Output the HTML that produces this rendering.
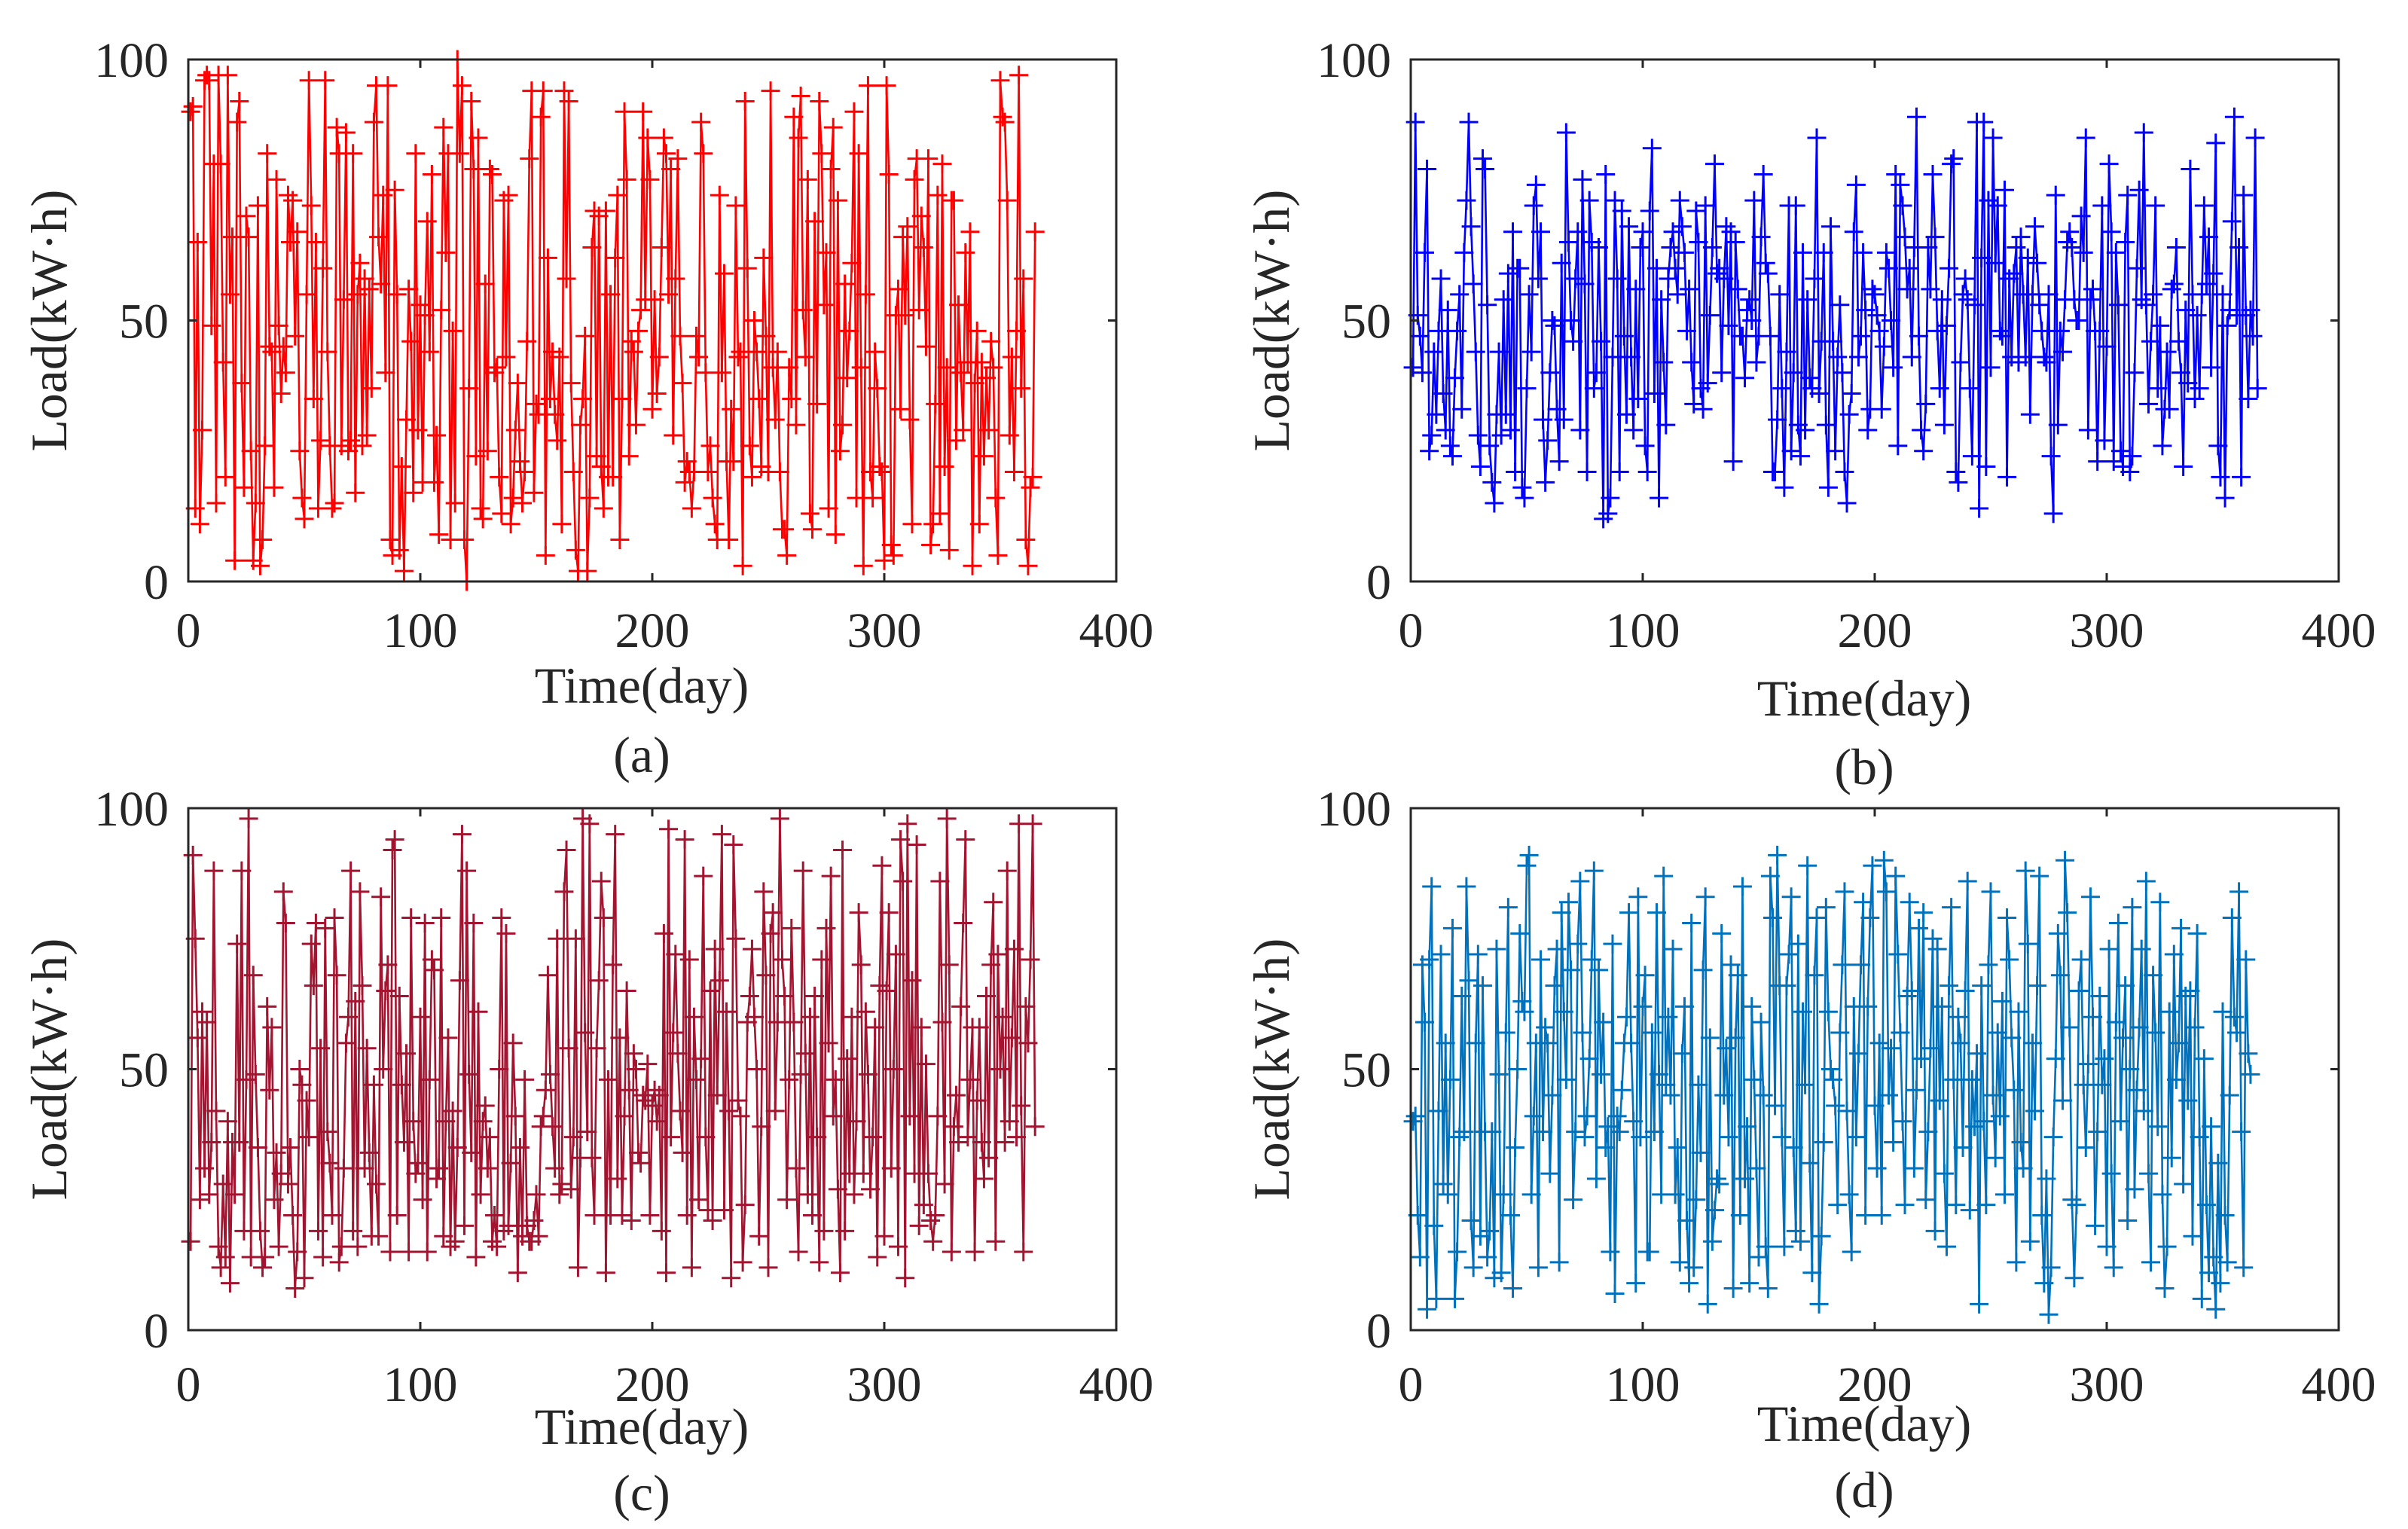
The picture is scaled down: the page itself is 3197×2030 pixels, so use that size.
<!DOCTYPE html>
<html><head><meta charset="utf-8"><style>
html,body{margin:0;padding:0;background:#fff;}
svg{display:block;}
text{font-family:"Liberation Serif",serif;fill:#262626;}
</style></head><body>
<svg id="fig" width="3197" height="2030" viewBox="0 0 3197 2030" xmlns="http://www.w3.org/2000/svg"></svg>
<script>
const xTicks=[0,100,200,300,400];
const yTicks=[0,50,100];
const xTickLabels=["0","100","200","300","400"];
const yTickLabels=["0","50","100"];
const captions=["(a)","(b)","(c)","(d)"];
const seriesA=[90,91,14,65,11,29,96,97,96,49,80,15,97,80,42,20,97,55,66,4,88,92,38,18,70,66,25,4,15,72,3,8,26,82,45,44,18,77,49,36,45,40,74,65,73,47,67,25,16,12,55,96,72,35,65,14,27,60,96,44,26,14,15,87,82,26,54,86,25,27,82,17,55,61,26,58,28,56,37,88,95,66,57,74,40,95,8,5,75,55,6,22,2,31,56,46,17,82,29,53,19,51,69,44,78,19,28,9,52,87,63,82,8,48,15,100,82,95,8,0,37,92,79,24,85,14,12,57,25,79,78,40,41,20,13,73,43,74,11,16,29,38,23,15,21,46,81,94,17,34,32,89,94,5,62,35,44,32,27,43,11,94,58,92,38,21,6,2,30,35,47,2,16,64,71,24,70,22,14,71,20,55,20,62,74,8,35,90,77,24,46,44,30,48,52,90,54,85,77,33,54,36,43,64,85,82,55,79,28,58,81,47,38,19,23,21,14,21,47,43,88,82,40,21,26,16,11,8,74,40,59,23,8,33,23,72,43,44,3,92,60,26,20,50,44,35,22,62,47,21,94,41,31,44,21,10,10,5,41,35,89,30,85,93,52,43,77,13,10,69,34,92,82,53,63,14,79,87,9,73,25,30,57,39,48,61,90,16,82,41,3,55,95,21,16,44,37,22,21,4,95,78,7,5,51,56,33,66,51,68,31,11,77,81,52,70,64,45,81,7,11,34,74,13,80,22,41,6,73,73,27,53,40,29,63,42,67,3,38,48,11,42,24,39,29,46,41,16,5,96,89,88,73,28,43,21,48,97,37,58,8,3,18,20,67,42,10,38,96,87,62,18,26,88,19,15,4,56,100,67,12,19];
const seriesB=[41,88,51,47,40,63,79,25,28,44,32,48,58,36,29,52,26,24,39,48,55,33,63,73,88,68,57,44,28,22,81,79,53,26,19,15,32,44,28,54,32,59,29,67,21,60,60,18,16,37,55,44,72,76,58,67,31,19,27,40,50,49,33,23,61,31,86,65,50,46,58,67,29,77,57,21,73,65,37,40,64,46,12,78,13,16,43,73,58,21,71,47,32,68,43,29,56,35,64,67,26,21,71,83,36,60,16,54,42,30,58,64,67,60,55,73,68,63,48,56,42,34,71,65,37,33,72,38,51,64,80,59,60,40,58,68,49,67,23,65,56,47,47,39,52,54,50,73,42,47,66,78,61,59,47,21,21,31,55,37,18,44,72,25,40,72,30,24,63,29,54,39,37,58,85,36,46,63,30,18,68,46,25,43,53,40,21,15,32,36,67,76,43,47,63,52,29,33,56,55,51,48,33,45,63,60,50,41,78,26,76,72,66,56,60,43,64,89,47,29,25,34,64,56,78,66,48,37,54,30,49,60,80,81,21,19,42,55,58,54,37,24,53,88,14,62,88,22,73,41,85,61,72,48,47,75,20,58,43,59,64,42,66,55,43,62,32,55,68,61,53,48,43,42,55,24,13,74,30,48,44,54,65,67,64,54,50,50,70,63,85,29,54,56,48,23,48,72,27,45,80,67,23,63,53,25,22,65,74,21,24,40,60,75,54,86,53,34,46,55,72,37,49,26,33,44,33,56,57,64,46,40,22,52,38,79,55,35,51,37,55,72,57,66,41,59,84,26,20,55,16,49,52,69,89,51,64,20,74,51,35,52,47,85,37,27,48,19,42,36,58,26,24,67,66,82,49];
const seriesC=[17,91,75,56,25,61,31,59,26,36,88,42,16,12,28,14,40,9,36,26,74,36,88,19,48,98,14,68,49,35,19,12,14,62,46,58,25,34,16,30,84,78,28,35,22,8,15,50,47,10,44,37,74,66,78,19,54,14,77,38,32,22,79,68,13,16,31,55,60,88,19,63,16,84,66,31,54,34,18,47,28,18,83,50,65,70,15,92,94,22,64,47,36,53,15,79,40,30,32,60,25,78,15,48,71,69,29,31,79,18,40,56,16,42,17,35,67,95,20,88,49,34,78,14,61,26,40,43,31,37,17,22,16,50,79,19,76,20,32,55,41,11,35,18,48,20,17,17,21,26,18,39,41,46,68,49,39,31,75,26,28,84,92,54,27,37,75,12,33,98,57,38,97,33,22,54,67,86,79,11,48,22,70,95,29,56,22,41,65,46,21,53,50,34,32,45,44,51,22,43,46,40,45,19,76,11,96,37,57,72,53,42,34,94,22,71,12,60,48,25,52,87,37,23,65,21,73,45,67,95,23,61,42,10,93,75,44,41,13,24,59,64,73,60,50,18,39,84,68,12,76,80,42,59,98,71,64,25,48,77,59,31,15,49,88,53,26,60,22,64,37,13,71,19,77,55,87,41,48,27,11,92,19,52,30,60,26,40,80,70,30,61,49,27,37,58,14,66,89,18,65,80,31,50,72,16,94,86,10,97,41,67,30,93,20,58,24,51,30,21,17,22,41,86,59,28,98,70,15,39,45,36,62,78,94,37,48,58,15,44,58,36,29,64,33,70,82,17,72,50,60,36,88,40,56,73,37,97,43,15,62,55,71,97,39,74,88,49];
const seriesD=[40,41,22,14,70,59,4,71,85,20,6,42,72,28,55,26,48,77,6,15,37,64,38,85,67,21,12,55,72,18,66,38,14,19,38,10,73,49,11,26,57,81,22,8,35,50,76,63,61,89,91,26,41,55,12,71,38,58,55,30,45,66,73,13,80,61,48,82,69,25,38,74,86,57,37,41,52,71,88,29,69,49,59,35,39,15,74,7,41,38,46,55,60,80,55,40,9,83,37,62,68,15,15,57,38,80,49,26,87,47,60,45,73,26,35,13,53,62,21,9,78,12,25,47,34,69,83,5,56,17,23,29,28,76,45,54,37,70,8,56,68,22,85,29,39,9,62,48,31,14,59,45,16,8,87,79,43,91,66,37,16,66,72,83,35,19,74,17,61,47,89,32,11,68,79,5,18,36,81,61,50,48,43,24,57,70,84,42,26,15,62,37,53,70,82,22,62,79,89,43,31,55,22,90,84,45,54,36,87,72,57,40,24,64,82,65,31,46,77,52,80,25,38,54,75,19,73,44,62,30,16,66,81,48,24,60,55,35,65,86,23,48,39,53,5,66,40,24,70,84,45,33,57,41,63,26,79,71,56,46,13,61,36,31,88,74,17,55,42,66,87,22,9,29,3,12,37,52,76,68,44,90,80,58,25,10,24,65,71,47,35,51,83,60,20,38,64,47,52,16,73,30,12,59,78,40,56,66,21,50,81,27,46,58,73,42,86,30,13,68,57,39,82,26,8,16,61,33,72,48,55,77,28,64,44,65,18,58,76,37,6,52,24,11,39,14,4,32,9,61,22,13,45,79,60,57,84,38,12,71,53,49];
const maxDays=365;

const NS="http://www.w3.org/2000/svg";
const svg=document.getElementById('fig');
function mk(tag,attrs,parent){const e=document.createElementNS(NS,tag);for(const k in attrs)e.setAttribute(k,attrs[k]);(parent||svg).appendChild(e);return e;}

const panels=[
 {id:'a',data:seriesA,color:'#ff0000',L:250,R:1482,T:79,B:772,tickY:859,titleY:933,capY:1025,yt:65},
 {id:'b',data:seriesB,color:'#0000ff',L:1873,R:3105,T:79,B:772,tickY:859,titleY:950,capY:1041,yt:1688},
 {id:'c',data:seriesC,color:'#a2142f',L:250,R:1482,T:1073,B:1766,tickY:1860,titleY:1917,capY:2005,yt:65},
 {id:'d',data:seriesD,color:'#0072bd',L:1873,R:3105,T:1073,B:1766,tickY:1860,titleY:1913,capY:2001,yt:1688}
];

panels.forEach((p,pi)=>{
  const g=mk('g',{});
  
  
  const sx=v=>p.L+(v-0)/(400-0)*(p.R-p.L);
  const sy=v=>p.B-(v-0)/(100-0)*(p.B-p.T);
  const vals=p.data.slice(0,maxDays);
  let d='';
  vals.forEach((v,i)=>{d+=(i?'L':'M')+sx(i+1).toFixed(2)+' '+sy(v).toFixed(2);});
  const line=mk('path',{d:d,fill:'none',stroke:p.color,'stroke-width':2.6,'stroke-linejoin':'round'},g);
  
  
  let md='';const m=12.5;
  vals.forEach((v,i)=>{const x=sx(i+1),y=sy(v);md+='M'+(x-m).toFixed(2)+' '+y.toFixed(2)+'h'+(2*m)+'M'+x.toFixed(2)+' '+(y-m).toFixed(2)+'v'+(2*m);});
  const mrk=mk('path',{d:md,fill:'none',stroke:p.color,'stroke-width':3},g);
  
  
  const box=mk('rect',{x:p.L,y:p.T,width:p.R-p.L,height:p.B-p.T,fill:'none',stroke:'#262626','stroke-width':3},g);
  
  
  xTicks.forEach((t,i)=>{
    const x=sx(t);
    mk('path',{d:'M'+x+' '+p.B+'v-11M'+x+' '+p.T+'v11',stroke:'#262626','stroke-width':3},g);
    const tx=mk('text',{x:x,y:p.tickY,'font-size':66,'text-anchor':'middle'},g);
    
    
    tx.textContent=xTickLabels[i];
  });
  yTicks.forEach((t,i)=>{
    const y=sy(t);
    mk('path',{d:'M'+p.L+' '+y+'h11M'+p.R+' '+y+'h-11',stroke:'#262626','stroke-width':3},g);
    const ty=mk('text',{x:p.L-26,y:y+23,'font-size':66,'text-anchor':'end'},g);
    
    
    ty.textContent=yTickLabels[i];
  });
  const xt=mk('text',{x:(p.L+p.R)/2-14,y:p.titleY,'font-size':68,'text-anchor':'middle'},g);
  
  
  xt.textContent='Time(day)';
  const cy=(p.T+p.B)/2;
  const yt=mk('text',{x:0,y:0,'font-size':68,'text-anchor':'middle',transform:'translate('+(p.yt+23)+','+cy+') rotate(-90)',textLength:348,lengthAdjust:'spacingAndGlyphs'},g);
  
  
  yt.textContent='Load(kW·h)';
  const cap=mk('text',{x:(p.L+p.R)/2-14,y:p.capY,'font-size':68,'text-anchor':'middle'},g);
  
  
  cap.textContent=captions[pi];
});
</script>
</body></html>
